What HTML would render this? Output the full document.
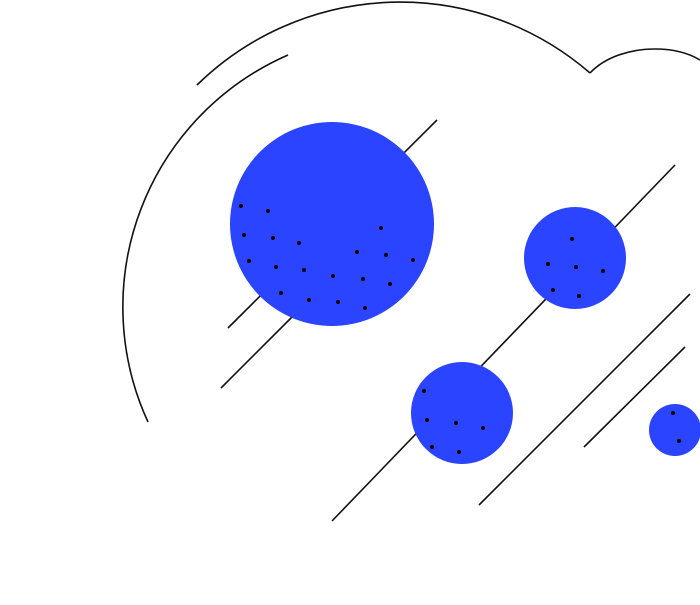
<!DOCTYPE html>
<html><head><style>html,body{margin:0;padding:0;background:#fff;width:700px;height:605px;overflow:hidden}</style></head>
<body>
<svg width="700" height="605" viewBox="0 0 700 605" xmlns="http://www.w3.org/2000/svg">
<g fill="none" stroke="#111" stroke-width="1.6">
<path d="M148,422 A275,275 0 0 1 288,55"/>
<path d="M197,85 A290,290 0 0 1 590,73"/>
<path d="M590,73 C605,57 630,49 655,49 C675,49 690,54 700,60"/>
<line x1="437" y1="120" x2="228" y2="328"/>
<line x1="221" y1="388" x2="300" y2="309"/>
<line x1="675" y1="165" x2="332" y2="521"/>
<line x1="690" y1="294" x2="479" y2="505"/>
<line x1="685" y1="347" x2="584" y2="447"/>
</g>
<g fill="#2b44ff">
<circle cx="332" cy="224" r="102"/>
<circle cx="575" cy="258" r="51"/>
<circle cx="462" cy="413" r="51"/>
<circle cx="675" cy="430" r="26"/>
</g>
<g fill="#000">
<circle cx="241" cy="206" r="2"/><circle cx="268" cy="211" r="2"/><circle cx="244" cy="235" r="2"/><circle cx="273" cy="238" r="2"/><circle cx="299" cy="243" r="2"/><circle cx="381" cy="228" r="2"/><circle cx="249" cy="261" r="2"/><circle cx="276" cy="267" r="2"/><circle cx="304" cy="270" r="2"/><circle cx="333" cy="276" r="2"/><circle cx="357" cy="252" r="2"/><circle cx="386" cy="255" r="2"/><circle cx="413" cy="260" r="2"/><circle cx="363" cy="279" r="2"/><circle cx="390" cy="284" r="2"/><circle cx="281" cy="293" r="2"/><circle cx="309" cy="300" r="2"/><circle cx="338" cy="302" r="2"/><circle cx="365" cy="308" r="2"/>
<circle cx="572" cy="239" r="2"/><circle cx="548" cy="264" r="2"/><circle cx="576" cy="267" r="2"/><circle cx="603" cy="271" r="2"/><circle cx="553" cy="290" r="2"/><circle cx="579" cy="296" r="2"/>
<circle cx="424" cy="391" r="2"/><circle cx="427" cy="420" r="2"/><circle cx="456" cy="423" r="2"/><circle cx="483" cy="428" r="2"/><circle cx="432" cy="447" r="2"/><circle cx="459" cy="452" r="2"/>
<circle cx="673" cy="413" r="2"/><circle cx="679" cy="441" r="2"/>
</g>
</svg>
</body></html>
